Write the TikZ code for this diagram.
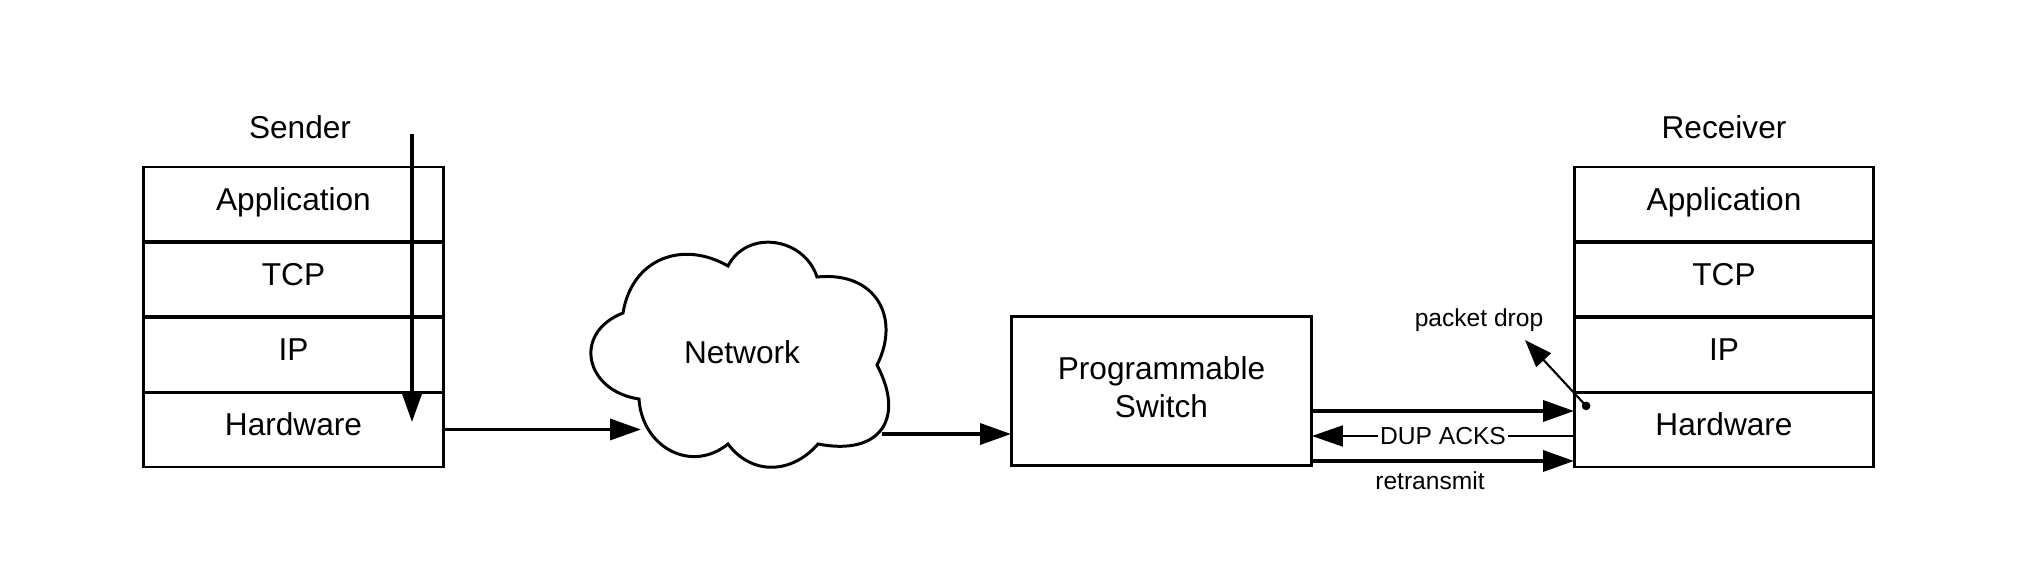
\documentclass[tikz,border=0pt]{standalone}
\usepackage{fontspec}
\setmainfont{Liberation Sans}
\usetikzlibrary{arrows.meta,calc}

\begin{document}
\begin{tikzpicture}[x=0.02cm,y=-0.02cm,
	every node/.style={font=\fontsize{18}{22}\selectfont},
	layer/.style={draw,line width=1.7pt,minimum width=6cm,minimum height=1.5cm,inner sep=0,outer sep=0,text height=0.5cm,text depth=0.25cm},
	small/.style={font=\fontsize{14}{16}\selectfont},
	arr/.style={line width=2pt,-{Triangle[length=0.62cm,width=0.42cm]}},
	thinarr/.style={line width=1.2pt,-{Triangle[length=0.62cm,width=0.42cm]}}]
				\useasboundingbox (0,0) rectangle (2025,574);
				%stack labels placed by hand
				%% layers of both stacks drawn with a loop
				\node (sender) at (300,127){Sender};
				\node (receiver) at (1724,127){Receiver};
				\foreach \lbl [count=\i] in {Application, TCP, IP, Hardware}{
					\node[layer] (s\i) at (293.5,{129.5+75*\i}){\lbl};
					\node[layer] (r\i) at (1724,{129.5+75*\i}){\lbl};
					}

				%% cloud outline lobe by lobe
				\draw[line width=1.7pt,line join=miter] (623,313)
					.. controls (632,258) and (683,240) .. (728,266)
					.. controls (747,229) and (804,237) .. (817,277)
					.. controls (876,271) and (901,318) .. (877,365)
					.. controls (906,420) and (879,456) .. (818,444)
					.. controls (792,474) and (752,476) .. (728,444)
					.. controls (691,474) and (642,447) .. (639,399)
					.. controls (585,391) and (572,333) .. cycle;
				\node (net) at (742,352){Network};
				\node[layer,minimum width=6.02cm,minimum height=3cm,align=center,text height=,text depth=0.16cm] (sw) at (1161.5,391){Programmable\\Switch};

				%free ends
				\coordinate (top) at (412,134);
				\coordinate (bottom) at (412,422);
				\coordinate (netin) at (641,429.5);
				\coordinate (netout) at (882,434);
				\coordinate (drop) at (1589,409);
				\coordinate (droptip) at (1525,340);

				\draw[arr] (top)--(bottom);
				\draw[arr] (s4.east)--(netin);
				\draw[arr] (netout)--(netout -| sw.west);
				\draw[arr] ([yshift=-0.4cm]sw.east)--([yshift=-0.4cm]sw.east -| r4.west);
				\draw[thinarr] ([yshift=-0.9cm]sw.east -| r4.west)--node[small,fill=white,inner sep=1pt]{DUP ACKS} ([yshift=-0.9cm]sw.east);
				\draw[arr] ([yshift=-1.4cm]sw.east)--node[small,below=0.06cm,xshift=-0.26cm]{retransmit} ([yshift=-1.4cm]sw.east -| r4.west);
				\node[small] (pd) at (1479,320){packet drop};
				\draw[line width=1.2pt,{Circle[length=0.17cm]}-{Triangle[length=0.55cm,width=0.4cm]}] (drop)--(droptip);
				\end{tikzpicture}
\end{document}
